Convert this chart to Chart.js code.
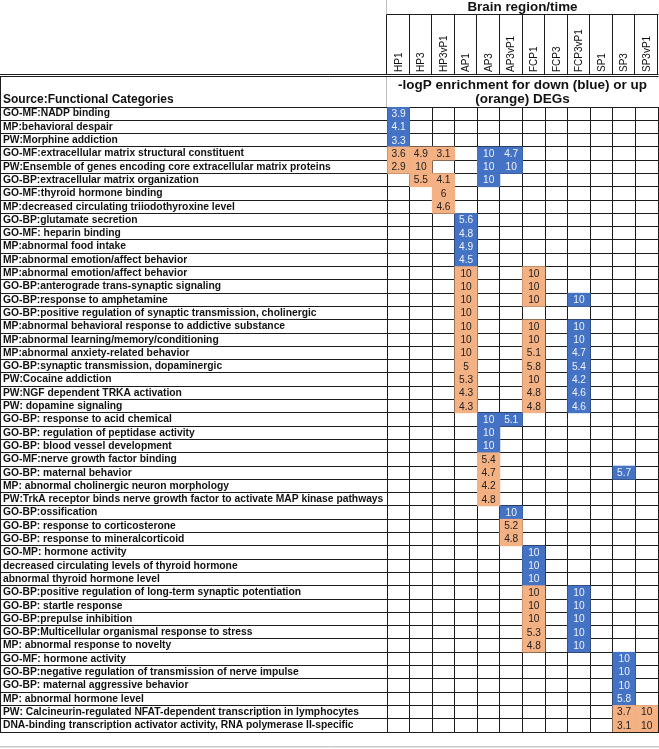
<!DOCTYPE html>
<html><head><meta charset="utf-8">
<script src="https://cdn.jsdelivr.net/npm/chart.js@4/dist/chart.umd.min.js"></script>
<style>html,body{margin:0;padding:0;background:#fff;}canvas{display:block;}</style>
</head><body>
<canvas id="c" width="659" height="749"></canvas>
<script>
const FONT = '"Liberation Sans", Arial, Helvetica, sans-serif';

const columns = ['HP1','HP3','HP3vP1','AP1','AP3','AP3vP1','FCP1','FCP3','FCP3vP1','SP1','SP3','SP3vP1'];

const categories = [
  'GO-MF:NADP binding',
  'MP:behavioral despair',
  'PW:Morphine addiction',
  'GO-MF:extracellular matrix structural constituent',
  'PW:Ensemble of genes encoding core extracellular matrix proteins',
  'GO-BP:extracellular matrix organization',
  'GO-MF:thyroid hormone binding',
  'MP:decreased circulating triiodothyroxine level',
  'GO-BP:glutamate secretion',
  'GO-MF: heparin binding',
  'MP:abnormal food intake',
  'MP:abnormal emotion/affect behavior',
  'MP:abnormal emotion/affect behavior',
  'GO-BP:anterograde trans-synaptic signaling',
  'GO-BP:response to amphetamine',
  'GO-BP:positive regulation of synaptic transmission, cholinergic',
  'MP:abnormal behavioral response to addictive substance',
  'MP:abnormal learning/memory/conditioning',
  'MP:abnormal anxiety-related behavior',
  'GO-BP:synaptic transmission, dopaminergic',
  'PW:Cocaine addiction',
  'PW:NGF dependent TRKA activation',
  'PW: dopamine signaling',
  'GO-BP: response to acid chemical',
  'GO-BP: regulation of peptidase activity',
  'GO-BP: blood vessel development',
  'GO-MF:nerve growth factor binding',
  'GO-BP: maternal behavior',
  'MP: abnormal cholinergic neuron morphology',
  'PW:TrkA receptor binds nerve growth factor to activate MAP kinase pathways',
  'GO-BP:ossification',
  'GO-BP: response to corticosterone',
  'GO-BP: response to mineralcorticoid',
  'GO-MP: hormone activity',
  'decreased circulating levels of thyroid hormone',
  'abnormal thyroid hormone level',
  'GO-BP:positive regulation of long-term synaptic potentiation',
  'GO-BP: startle response',
  'GO-BP:prepulse inhibition',
  'GO-BP:Multicellular organismal response to stress',
  'MP: abnormal response to novelty',
  'GO-MF: hormone activity',
  'GO-BP:negative regulation of transmission of nerve impulse',
  'GO-BP: maternal aggressive behavior',
  'MP: abnormal hormone level',
  'PW: Calcineurin-regulated NFAT-dependent transcription in lymphocytes',
  'DNA-binding transcription activator activity, RNA polymerase II-specific'
];

// -logP enrichment for down-regulated DEGs (blue): [row index, column, value]
const downCells = [
  [0,'HP1',3.9],[1,'HP1',4.1],[2,'HP1',3.3],
  [3,'AP3',10],[3,'AP3vP1',4.7],
  [4,'AP3',10],[4,'AP3vP1',10],
  [5,'AP3',10],
  [8,'AP1',5.6],[9,'AP1',4.8],[10,'AP1',4.9],[11,'AP1',4.5],
  [14,'FCP3vP1',10],[16,'FCP3vP1',10],[17,'FCP3vP1',10],[18,'FCP3vP1',4.7],
  [19,'FCP3vP1',5.4],[20,'FCP3vP1',4.2],[21,'FCP3vP1',4.6],[22,'FCP3vP1',4.6],
  [23,'AP3',10],[23,'AP3vP1',5.1],[24,'AP3',10],[25,'AP3',10],
  [27,'SP3',5.7],
  [30,'AP3vP1',10],
  [33,'FCP1',10],[34,'FCP1',10],[35,'FCP1',10],
  [36,'FCP3vP1',10],[37,'FCP3vP1',10],[38,'FCP3vP1',10],[39,'FCP3vP1',10],[40,'FCP3vP1',10],
  [41,'SP3',10],[42,'SP3',10],[43,'SP3',10],[44,'SP3',5.8]
];

// -logP enrichment for up-regulated DEGs (orange): [row index, column, value]
const upCells = [
  [3,'HP1',3.6],[3,'HP3',4.9],[3,'HP3vP1',3.1],
  [4,'HP1',2.9],[4,'HP3',10],
  [5,'HP3',5.5],[5,'HP3vP1',4.1],
  [6,'HP3vP1',6],[7,'HP3vP1',4.6],
  [12,'AP1',10],[12,'FCP1',10],
  [13,'AP1',10],[13,'FCP1',10],
  [14,'AP1',10],[14,'FCP1',10],
  [15,'AP1',10],
  [16,'AP1',10],[16,'FCP1',10],
  [17,'AP1',10],[17,'FCP1',10],
  [18,'AP1',10],[18,'FCP1',5.1],
  [19,'AP1',5],[19,'FCP1',5.8],
  [20,'AP1',5.3],[20,'FCP1',10],
  [21,'AP1',4.3],[21,'FCP1',4.8],
  [22,'AP1',4.3],[22,'FCP1',4.8],
  [26,'AP3',5.4],[27,'AP3',4.7],[28,'AP3',4.2],[29,'AP3',4.8],
  [31,'AP3vP1',5.2],[32,'AP3vP1',4.8],
  [36,'FCP1',10],[37,'FCP1',10],[38,'FCP1',10],[39,'FCP1',5.3],[40,'FCP1',4.8],
  [45,'SP3',3.7],[45,'SP3vP1',10],[46,'SP3',3.1],[46,'SP3vP1',10]
];

const headerTitle = 'Brain region/time';
const subtitleLines = ['-logP enrichment for down (blue) or up', '(orange) DEGs'];
const rowHeader = 'Source:Functional Categories';

const BLUE = '#4472C4';
const ORANGE = '#F4B183';
const GRID = '#1c1c1c';

const datasets = columns.map((col, ci) => {
  const data = categories.map(() => null);
  const values = categories.map(() => null);
  const dirs = categories.map(() => null);
  const colors = categories.map(() => 'rgba(0,0,0,0)');
  downCells.forEach(([r, c, v]) => { if (c === col) { data[r] = [ci, ci + 1]; values[r] = v; dirs[r] = 'down'; colors[r] = BLUE; } });
  upCells.forEach(([r, c, v]) => { if (c === col) { data[r] = [ci, ci + 1]; values[r] = v; dirs[r] = 'up'; colors[r] = ORANGE; } });
  return {
    label: col, data, values, dirs,
    backgroundColor: colors,
    borderWidth: 0,
    grouped: false,
    barPercentage: 1,
    categoryPercentage: 1
  };
});

const bgPlugin = {
  id: 'bg',
  beforeDraw(chart) {
    const c = chart.ctx;
    c.save();
    c.fillStyle = '#fff';
    c.fillRect(0, 0, chart.width, chart.height);
    c.restore();
  }
};

const valueLabels = {
  id: 'valueLabels',
  afterDatasetsDraw(chart) {
    const c = chart.ctx;
    c.save();
    c.font = '10.2px ' + FONT;
    c.textAlign = 'center';
    c.textBaseline = 'middle';
    chart.data.datasets.forEach((ds, di) => {
      const meta = chart.getDatasetMeta(di);
      meta.data.forEach((el, i) => {
        const v = ds.values[i];
        if (v === null || v === undefined) return;
        const p = el.getProps(['x', 'base', 'y'], true);
        c.fillStyle = ds.dirs[i] === 'down' ? '#eef2fa' : '#222';
        c.fillText(String(v), (p.x + p.base) / 2, p.y + 0.5);
      });
    });
    c.restore();
  }
};

const headerPlugin = {
  id: 'header',
  afterDraw(chart) {
    const c = chart.ctx;
    const a = chart.chartArea;
    const xs = chart.scales.x;
    const cx = (a.left + a.right) / 2;
    c.save();
    c.strokeStyle = '#bdbdbd';
    c.lineWidth = 1;
    c.beginPath();
    c.moveTo(a.left - 0.5, 0); c.lineTo(a.left - 0.5, 14);
    c.moveTo(a.left - 0.5, 77); c.lineTo(a.left - 0.5, a.top);
    c.stroke();
    c.strokeStyle = '#c8c8c8';
    c.beginPath();
    c.moveTo(0, 746.5); c.lineTo(chart.width, 746.5);
    c.stroke();
    c.strokeStyle = '#e6e6e6';
    c.beginPath();
    c.moveTo(0, 747.5); c.lineTo(chart.width, 747.5);
    c.stroke();
    c.strokeStyle = GRID;
    c.beginPath();
    c.moveTo(a.left - 0.5, 14.5); c.lineTo(a.right + 0.5, 14.5);
    for (let i = 0; i <= columns.length; i++) {
      const px = Math.round(xs.getPixelForValue(i)) + 0.5;
      c.moveTo(px - 1, 14.5); c.lineTo(px - 1, 74.5);
    }
    c.moveTo(0, 74.5); c.lineTo(a.right + 0.5, 74.5);
    c.moveTo(0, 76.5); c.lineTo(a.right + 0.5, 76.5);
    c.moveTo(0.5, 76.5); c.lineTo(0.5, a.bottom);
    c.stroke();
    c.fillStyle = '#111';
    c.textAlign = 'center';
    c.textBaseline = 'alphabetic';
    c.font = 'bold 13.4px ' + FONT;
    c.fillText(headerTitle, cx, 11);
    c.font = 'bold 13.5px ' + FONT;
    c.fillText(subtitleLines[0], cx, 88.7);
    c.fillText(subtitleLines[1], cx, 103.3);
    c.textAlign = 'left';
    c.font = 'bold 12px ' + FONT;
    c.fillText(rowHeader, 3, 102.5);
    c.restore();
  }
};

new Chart(document.getElementById('c'), {
  type: 'bar',
  data: { labels: categories, datasets },
  plugins: [bgPlugin, valueLabels, headerPlugin],
  options: {
    indexAxis: 'y',
    responsive: false,
    devicePixelRatio: 1,
    animation: false,
    layout: { padding: { left: 3, right: 1, top: 0, bottom: 0 } },
    plugins: { legend: { display: false }, tooltip: { enabled: false }, title: { display: false } },
    scales: {
      x: {
        type: 'linear', position: 'bottom', min: 0, max: 12, z: 1,
        ticks: { display: false, stepSize: 1 },
        grid: { color: GRID, lineWidth: 1, drawTicks: false },
        border: { display: true, color: GRID },
        afterFit: s => { s.height = 17; s.paddingLeft = 0; s.paddingRight = 0; }
      },
      xTop: {
        type: 'category', position: 'top', labels: columns, offset: true,
        grid: { display: false, drawTicks: false },
        border: { display: false },
        ticks: { autoSkip: false, minRotation: 90, maxRotation: 90, padding: 35, labelOffset: 12.5, color: '#111',
                 font: { family: FONT, size: 10, lineHeight: 1.2 } },
        afterFit: s => { s.height = 107; s.paddingLeft = 0; s.paddingRight = 0; }
      },
      y: {
        type: 'category', labels: categories, offset: true, z: 1,
        grid: { offset: true, color: GRID, lineWidth: 1, tickLength: 388, drawTicks: true },
        border: { display: true, color: GRID },
        ticks: { crossAlign: 'far', padding: 0, autoSkip: false, color: '#111',
                 font: { family: FONT, size: 10.3, weight: 'bold' } },
        afterFit: s => { s.width = 384; s.paddingTop = 0; s.paddingBottom = 0; }
      }
    }
  }
});
</script>
</body></html>
